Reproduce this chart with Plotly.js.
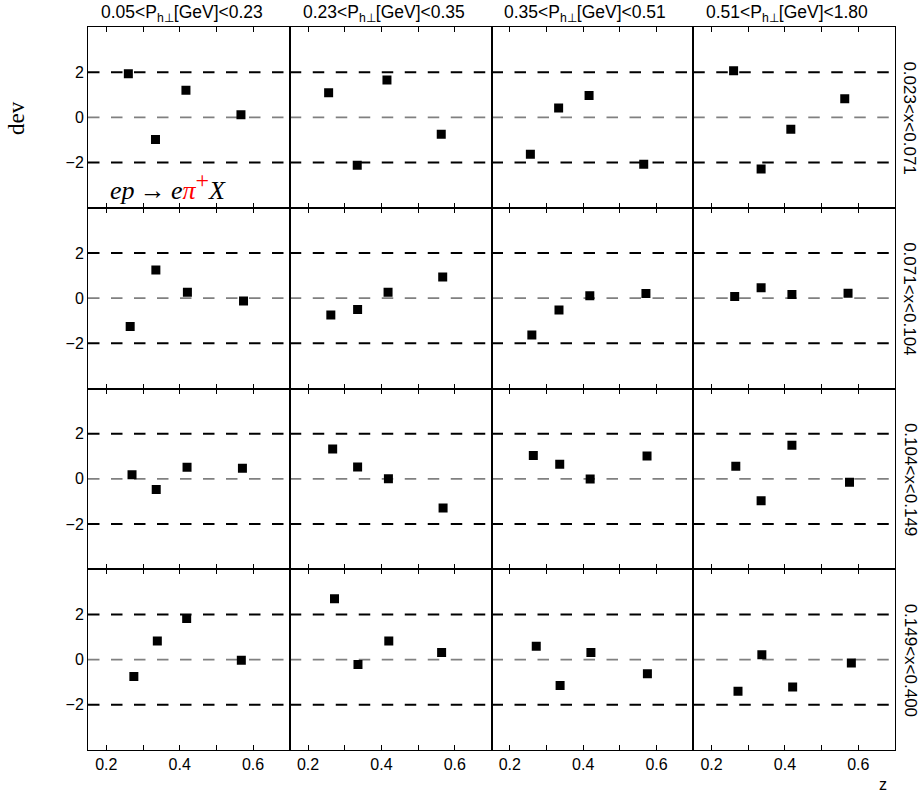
<!DOCTYPE html>
<html>
<head>
<meta charset="utf-8">
<script src="https://cdn.plot.ly/plotly-3.0.1.min.js"></script>
<style>html,body{margin:0;padding:0;background:#fff;}#chart{width:919px;height:796px;}</style>
</head>
<body>
<div id="chart"></div>
<script>
// Column bins (transverse momentum) and row bins (x)
const pBins = ['0.05&lt;P<sub>h⊥</sub>[GeV]&lt;0.23', '0.23&lt;P<sub>h⊥</sub>[GeV]&lt;0.35',
               '0.35&lt;P<sub>h⊥</sub>[GeV]&lt;0.51', '0.51&lt;P<sub>h⊥</sub>[GeV]&lt;1.80'];
const xBins = ['0.023&lt;x&lt;0.071', '0.071&lt;x&lt;0.104', '0.104&lt;x&lt;0.149', '0.149&lt;x&lt;0.400'];
const zTicks = [0.2, 0.4, 0.6];
const zTickText = ['0.2', '0.4', '0.6'];
const devTicks = [-2, 0, 2];
const devTickText = ['\u22122', '0', '2'];
const refLevels = [-2, 0, 2];

// z values per panel (row = x bin, inner = P_h bin)
const zRow1 = [[0.260,0.334,0.417,0.567],[0.256,0.334,0.415,0.563],[0.256,0.333,0.416,0.565],[0.260,0.335,0.416,0.563]];
const zRow2 = [[0.265,0.335,0.421,0.574],[0.262,0.335,0.418,0.567],[0.260,0.334,0.418,0.571],[0.263,0.335,0.419,0.572]];
const zRow3 = [[0.270,0.336,0.420,0.571],[0.267,0.335,0.419,0.568],[0.264,0.336,0.419,0.574],[0.266,0.335,0.419,0.576]];
const zRow4 = [[0.275,0.339,0.419,0.568],[0.272,0.336,0.420,0.564],[0.272,0.337,0.421,0.575],[0.272,0.337,0.421,0.581]];

// deviation values per panel
const devRow1 = [[1.93,-0.98,1.20,0.12],[1.09,-2.12,1.65,-0.75],[-1.63,0.41,0.97,-2.07],[2.06,-2.28,-0.53,0.82]];
const devRow2 = [[-1.26,1.25,0.26,-0.13],[-0.75,-0.50,0.26,0.93],[-1.63,-0.53,0.10,0.21],[0.07,0.46,0.16,0.22]];
const devRow3 = [[0.18,-0.47,0.51,0.47],[1.32,0.53,0.01,-1.29],[1.04,0.65,0.00,1.01],[0.56,-0.97,1.49,-0.15]];
const devRow4 = [[-0.75,0.82,1.82,-0.03],[2.69,-0.22,0.82,0.32],[0.59,-1.15,0.31,-0.63],[-1.40,0.22,-1.21,-0.15]];

const zRows = [zRow1, zRow2, zRow3, zRow4];
const devRows = [devRow1, devRow2, devRow3, devRow4];

const SANS = 'Liberation Sans, Arial, sans-serif';
const SERIF = 'Liberation Serif, Times New Roman, serif';

const traces = [];
const shapes = [];
const annotations = [];
const layout = {
  width: 919, height: 796,
  margin: {l: 88, r: 24, t: 27, b: 46, pad: 0},
  paper_bgcolor: '#fff', plot_bgcolor: '#fff',
  showlegend: false,
  font: {family: SANS, size: 16, color: '#000'}
};

for (let r = 0; r < 4; r++) {
  for (let c = 0; c < 4; c++) {
    const k = r * 4 + c + 1;
    const xa = k === 1 ? 'x' : 'x' + k;
    const ya = k === 1 ? 'y' : 'y' + k;
    traces.push({
      type: 'scatter', mode: 'markers',
      x: zRows[r][c], y: devRows[r][c],
      xaxis: xa, yaxis: ya,
      marker: {symbol: 'square', size: 9, color: '#000', line: {width: 0}},
      hoverinfo: 'skip'
    });
    layout['xaxis' + (k === 1 ? '' : k)] = {
      domain: [c / 4, (c + 1) / 4], anchor: ya,
      range: [0.15, 0.70],
      tickmode: 'array', tickvals: zTicks, ticktext: zTickText,
      showticklabels: r === 3,
      ticks: 'inside', ticklen: 5, tickwidth: 1, tickcolor: '#000',
      minor: {ticks: 'inside', dtick: 0.1, tick0: 0, ticklen: 5, tickwidth: 1, tickcolor: '#000', showgrid: false},
      showline: true, mirror: 'ticks', linecolor: '#000', linewidth: 1,
      showgrid: false, zeroline: false, fixedrange: true,
      tickfont: {family: SANS, size: 16, color: '#000'}
    };
    layout['yaxis' + (k === 1 ? '' : k)] = {
      domain: [1 - (r + 1) / 4, 1 - r / 4], anchor: xa,
      range: [-4, 4],
      tickmode: 'array', tickvals: devTicks, ticktext: devTickText,
      showticklabels: c === 0, ticks: '',
      showline: true, mirror: true, linecolor: '#000', linewidth: 1,
      showgrid: false, zeroline: false, fixedrange: true,
      tickfont: {family: SANS, size: 16, color: '#000'}
    };
    refLevels.forEach(function (lv) {
      shapes.push({
        type: 'line', xref: xa + ' domain', yref: ya,
        x0: 0, x1: 1, y0: lv, y1: lv,
        line: lv === 0 ? {color: '#808080', width: 1.6, dash: '11.5px,11.5px'}
                       : {color: '#000', width: 2, dash: '11.5px,11.5px'},
        layer: 'below'
      });
    });
  }
}

// column titles
pBins.forEach(function (t, c) {
  annotations.push({
    xref: 'paper', yref: 'paper', x: (c + 0.5) / 4, y: 1,
    xanchor: 'center', yanchor: 'bottom', xshift: -7, yshift: 0,
    text: t, showarrow: false, font: {family: SANS, size: 17.5, color: '#000'}
  });
});
// row labels
xBins.forEach(function (t, r) {
  annotations.push({
    xref: 'paper', yref: 'paper', x: 1, y: 1 - (r + 0.5) / 4,
    xanchor: 'center', yanchor: 'middle', xshift: 15,
    textangle: 90,
    text: t, showarrow: false, font: {family: SANS, size: 17, color: '#000'}
  });
});
// y label
annotations.push({
  xref: 'paper', yref: 'y', x: -0.0886, y: 0,
  xanchor: 'center', yanchor: 'middle', textangle: -90,
  text: 'dev', showarrow: false, font: {family: SERIF, size: 23, color: '#000'}
});
// reaction label
annotations.push({
  xref: 'x domain', yref: 'y', x: 0.1, y: -3.05,
  xanchor: 'left', yanchor: 'middle',
  text: '<i>ep</i>\u2009\u2192\u2009<i>e</i><span style="color:#ff0000"><i>\u03c0</i><sup><span style="font-size:24px">+</span></sup></span><i>X</i>',
  showarrow: false, font: {family: SERIF, size: 26, color: '#000'}
});
// z label
annotations.push({
  xref: 'paper', yref: 'paper', x: 0.9855, y: -0.0484,
  xanchor: 'center', yanchor: 'middle',
  text: 'z', showarrow: false, font: {family: SANS, size: 16, color: '#000'}
});

layout.shapes = shapes;
layout.annotations = annotations;

Plotly.newPlot('chart', traces, layout, {displayModeBar: false, staticPlot: true});
</script>
</body>
</html>
